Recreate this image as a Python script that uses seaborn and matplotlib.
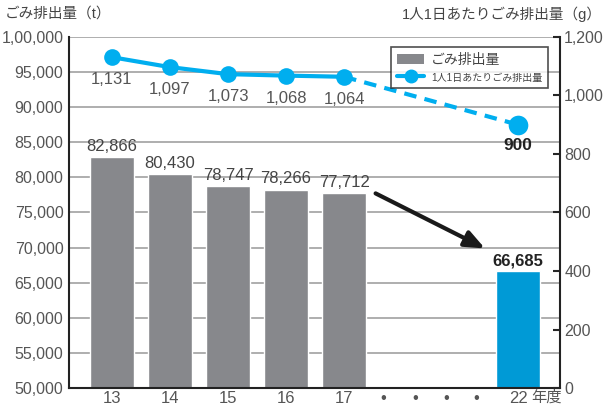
import pandas as pd
import seaborn as sns
import matplotlib.pyplot as plt
from matplotlib.patches import Patch
from matplotlib.lines import Line2D

sns.set_style('white')
plt.rcParams['font.family'] = ['Liberation Sans', 'Noto Sans CJK JP', 'DejaVu Sans']

# データ
years = ['13', '14', '15', '16', '17', '22']
pos = [0, 1, 2, 3, 4, 7]          # 22年度は間を空けて表示
gomi = [82866, 80430, 78747, 78266, 77712, 66685]
per_person = [1131, 1097, 1073, 1068, 1064, 900]
bar_colors = ['#87888c'] * 5 + ['#009ad6']
line_color = '#00aeef'
dot_pos = [4.68, 5.22, 5.76, 6.28]

df = pd.DataFrame({'year': years, 'pos': pos, 'gomi': gomi, 'g': per_person})

fig = plt.figure(figsize=(6.03, 4.08), dpi=100)
ax = fig.add_axes([69 / 603, 20 / 408, 491 / 603, 351 / 408])

sns.barplot(data=df, x='pos', y='gomi', hue='year', palette=bar_colors,
            native_scale=True, width=0.75, dodge=False, legend=False,
            saturation=1, ax=ax, zorder=2)
ax.set_xlim(-0.74, 7.72)
ax.set_ylim(50000, 100000)
ax.set_yticks(range(50000, 100001, 5000))
ax.set_yticklabels(['50,000', '55,000', '60,000', '65,000', '70,000', '75,000',
                    '80,000', '85,000', '90,000', '95,000', '1,00,000'])
ax.yaxis.grid(True, color='#a8a8a8', lw=1.3, zorder=0)
ax.set_axisbelow(True)
ax.tick_params(axis='y', length=0, labelsize=11.5, labelcolor='#555555', pad=4)
ax.set_xticks(pos[:5] + dot_pos + [7])
ax.set_xticklabels(years[:5] + ['•'] * 4 + ['22'])
ax.tick_params(axis='x', length=0, labelsize=12, labelcolor='#555555', pad=2)
ax.set_xlabel('')
ax.set_ylabel('')
ax.text(7.22, 48650, '年度', fontsize=11, color='#555555', va='center', ha='left')
for s in ['left', 'bottom']:
    ax.spines[s].set_color('#222222')
    ax.spines[s].set_linewidth(1.5)
ax.spines['top'].set_visible(False)
ax.spines['right'].set_visible(False)

# 棒の数値
for i in range(5):
    ax.text(pos[i], gomi[i] + 500, f'{gomi[i]:,}', ha='center', va='bottom',
            fontsize=12, color='#444444')
ax.text(pos[5], gomi[5] + 400, f'{gomi[5]:,}', ha='center', va='bottom',
        fontsize=12, fontweight='bold', color='#222222')

ax.annotate('', xy=(6.47, 69700), xytext=(4.5, 77900),
            arrowprops=dict(arrowstyle='-|>,head_length=1.2,head_width=0.5',
                            color='#1a1a1a', lw=3))

# 1人1日あたり
ax2 = ax.twinx()
sns.lineplot(x=pos[:5], y=per_person[:5], color=line_color, lw=3, marker='o',
             markersize=12, markeredgewidth=0, ax=ax2)
sns.lineplot(x=pos[4:], y=per_person[4:], color=line_color, lw=3,
             linestyle=(0, (3, 2)), ax=ax2)
sns.scatterplot(x=pos[5:], y=per_person[5:], color=line_color, s=200,
                linewidth=0, ax=ax2, zorder=5)
ax2.set_ylim(0, 1200)
ax2.set_yticks(range(0, 1201, 200))
ax2.set_yticklabels(['0', '200', '400', '600', '800', '1,000', '1,200'])
ax2.tick_params(axis='y', direction='in', length=5, width=1.5, labelsize=11.5,
                labelcolor='#555555', pad=3)
ax2.grid(False)
for s in ['top', 'left', 'bottom']:
    ax2.spines[s].set_visible(False)
ax2.spines['right'].set_color('#222222')
ax2.spines['right'].set_linewidth(1.5)

for i in range(5):
    ax2.text(pos[i], per_person[i] - 52, f'{per_person[i]:,}', ha='center',
             va='top', fontsize=12, color='#555555')
ax2.text(pos[5], per_person[5] - 45, '900', ha='center', va='top',
         fontsize=12.5, fontweight='bold', color='#222222')

handles = [Patch(facecolor='#87888c', edgecolor='none'),
           Line2D([], [], color=line_color, lw=3, marker='o', markersize=9)]
leg = ax2.legend(handles, ['ごみ排出量', '1人1日あたりごみ排出量'],
                 loc='upper right', bbox_to_anchor=(0.99, 0.99), frameon=True,
                 fancybox=False, edgecolor='#222222', fontsize=10,
                 handlelength=2.0, handletextpad=0.5, borderpad=0.4,
                 labelspacing=0.3)
leg.get_frame().set_linewidth(1.2)
leg.get_texts()[1].set_fontsize(7.2)
for t in leg.get_texts():
    t.set_color('#444444')

fig.text(0.008, 0.985, 'ごみ排出量（t）', ha='left', va='top', fontsize=10.5,
         color='#444444')
fig.text(0.998, 0.985, '1人1日あたりごみ排出量（g）', ha='right', va='top',
         fontsize=10.5, color='#444444')

plt.savefig('out.png', dpi=100)
